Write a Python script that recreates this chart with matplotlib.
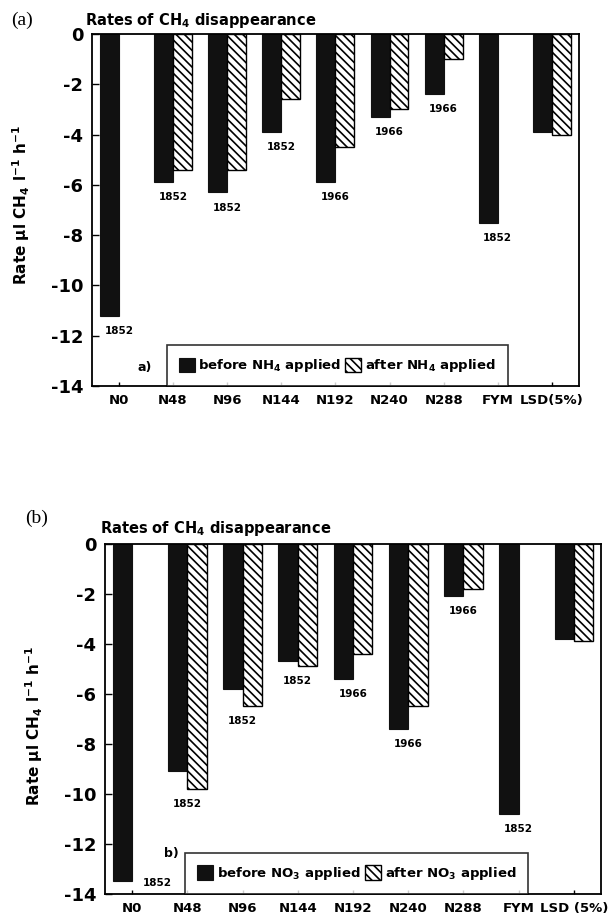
import numpy as np
import matplotlib
matplotlib.use("Agg")
import matplotlib.pyplot as plt

plt.rcParams["font.family"] = ["DejaVu Sans"]
plt.rcParams["font.weight"] = "bold"
plt.rcParams["mathtext.default"] = "regular"
plt.rcParams["axes.unicode_minus"] = False
plt.rcParams["hatch.linewidth"] = 1.2

# categories (x axis)
categories_a = ["N0", "N48", "N96", "N144", "N192", "N240", "N288", "FYM", "LSD(5%)"]
categories_b = ["N0", "N48", "N96", "N144", "N192", "N240", "N288", "FYM", "LSD (5%)"]

# panel a: rates before / after NH4 (ul CH4 l-1 h-1)
before_nh4 = [-11.2, -5.9, -6.3, -3.9, -5.9, -3.3, -2.4, -7.5, -3.9]
after_nh4 = [np.nan, -5.4, -5.4, -2.6, -4.5, -3.0, -1.0, np.nan, -4.0]
years_a = ["1852", "1852", "1852", "1852", "1966", "1966", "1966", "1852", ""]

# panel b: rates before / after NO3
before_no3 = [-13.5, -9.1, -5.8, -4.7, -5.4, -7.4, -2.1, -10.8, -3.8]
after_no3 = [np.nan, -9.8, -6.5, -4.9, -4.4, -6.5, -1.8, np.nan, -3.9]
years_b = ["1852", "1852", "1852", "1852", "1966", "1966", "1966", "1852", ""]

yticks = [0, -2, -4, -6, -8, -10, -12, -14]


def draw_panel(ax, cats, before, after, years, ion, tag, tag_xy, leg_x, leg_w):
    x = np.arange(len(cats))
    w = 0.35
    h1 = ax.bar(x - w, before, width=w, align="edge", color="#111111",
                edgecolor="#111111", linewidth=0.8)
    h2 = ax.bar(x, after, width=w, align="edge", color="white",
                edgecolor="black", hatch="\\\\\\\\", linewidth=1.0)

    # year labels under each pair
    for i, yr in enumerate(years):
        if not yr:
            continue
        low = np.nanmin([before[i], after[i]])
        if low - 0.6 < -13.6:
            ax.text(i + 0.45, low - 0.05, yr, ha="center", va="center",
                    fontsize=7.5, fontweight="bold")
        else:
            ax.text(i, low - 0.6, yr, ha="center", va="center",
                    fontsize=7.5, fontweight="bold")

    ax.set_xlim(-0.5, len(cats) - 0.5)
    ax.set_ylim(-14, 0)
    ax.set_yticks(yticks)
    ax.set_yticklabels([str(t) for t in yticks], fontsize=13, fontweight="bold")
    ax.set_xticks(x)
    ax.set_xticklabels(cats, fontsize=9.5, fontweight="bold")
    ax.tick_params(axis="y", direction="in", length=5, width=1, pad=6)
    ax.tick_params(axis="x", direction="in", length=3, width=1, pad=6)
    for s in ax.spines.values():
        s.set_linewidth(1.3)

    ax.set_ylabel("Rate µl CH$_4$ l$^{-1}$ h$^{-1}$", fontsize=11, fontweight="bold")

    leg = ax.legend([h1, h2], [f"before {ion} applied", f"after {ion} applied"],
                    loc="lower left", bbox_to_anchor=(leg_x, 0.0, leg_w, 0.12),
                    mode="expand", ncol=2, frameon=True, fancybox=False,
                    edgecolor="black", borderpad=0.9, handlelength=1.2,
                    handleheight=1.3, handletextpad=0.3, columnspacing=0.6,
                    borderaxespad=0.0, prop={"weight": "bold", "size": 9.5})
    leg.get_frame().set_linewidth(1.2)
    ax.text(tag_xy[0], tag_xy[1], tag, transform=ax.transAxes, ha="center",
            va="center", fontsize=9, fontweight="bold")


fig = plt.figure(figsize=(6.12, 9.22), dpi=100)

ax_a = fig.add_axes([0.150, 0.5813, 0.796, 0.3818])
draw_panel(ax_a, categories_a, before_nh4, after_nh4, years_a, "NH$_4$", "a)",
           (0.109, 0.054), 0.154, 0.70)
ax_a.yaxis.set_label_coords(-0.123, 0.514)

ax_b = fig.add_axes([0.1708, 0.0304, 0.812, 0.3796])
draw_panel(ax_b, categories_b, before_no3, after_no3, years_b, "NO$_3$", "b)",
           (0.135, 0.117), 0.162, 0.69)
ax_b.yaxis.set_label_coords(-0.12, 0.48)

# panel tags and titles
fig.text(22 / 612, 1 - 20 / 922, "(a)", fontsize=14, family="Liberation Serif",
         fontweight="normal", ha="center", va="center")
fig.text(37 / 612, 1 - 518 / 922, "(b)", fontsize=14, family="Liberation Serif",
         fontweight="normal", ha="center", va="center")
fig.text(85 / 612, 1 - 21 / 922, "Rates of CH$_4$ disappearance", fontsize=10.5,
         fontweight="bold", ha="left", va="center")
fig.text(100 / 612, 1 - 528 / 922, "Rates of CH$_4$ disappearance", fontsize=10.5,
         fontweight="bold", ha="left", va="center")

fig.savefig("out.png", dpi=100)
